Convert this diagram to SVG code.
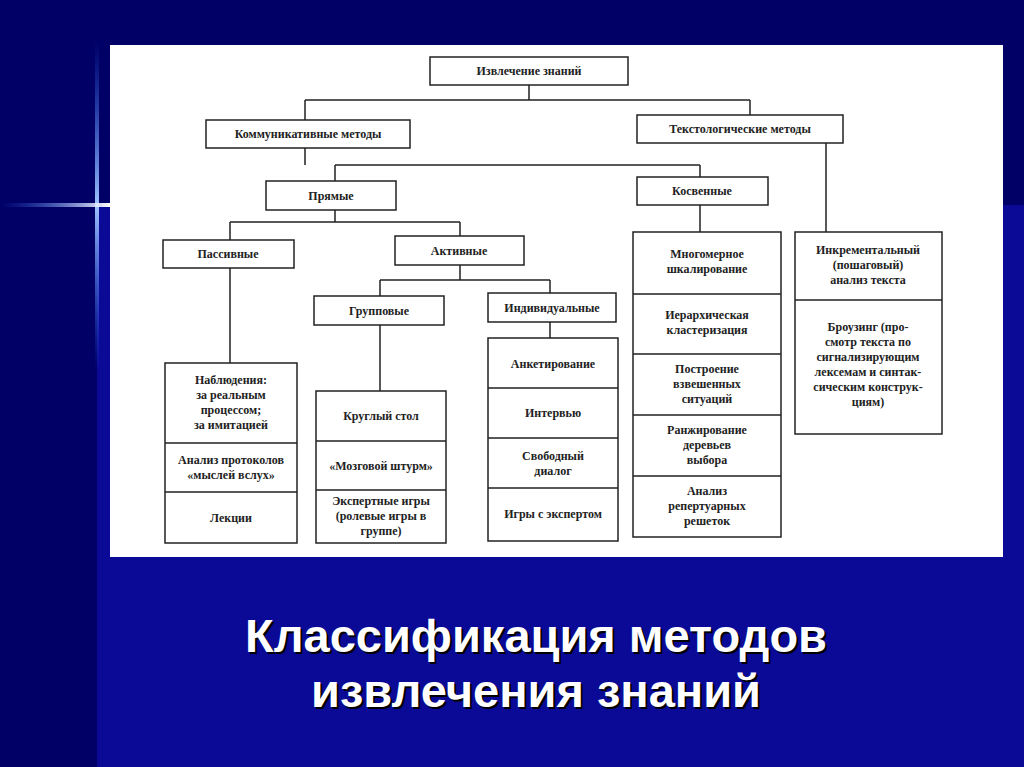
<svg xmlns="http://www.w3.org/2000/svg" width="1024" height="767" viewBox="0 0 1024 767">
<defs>
<linearGradient id="gv" x1="0" y1="0" x2="0" y2="1"><stop offset="0" stop-color="#2a6cff" stop-opacity="0"/><stop offset="0.5" stop-color="#9fc4ff"/><stop offset="1" stop-color="#2a6cff" stop-opacity="0"/></linearGradient>
<linearGradient id="gh" x1="0" y1="0" x2="1" y2="0"><stop offset="0" stop-color="#2a6cff" stop-opacity="0"/><stop offset="1" stop-color="#ffffff"/></linearGradient>
</defs>
<style>
.b{fill:#fff;stroke:#222;stroke-width:1.5}
.l{fill:none;stroke:#222;stroke-width:1.5}
text{font-family:"Liberation Serif",serif;font-weight:bold;font-size:12px;fill:#222;text-anchor:middle}
.t{font-family:"Liberation Sans",Arial,sans-serif;font-size:47px;fill:#fff}
</style>
<rect width="1024" height="767" fill="#000066"/>
<rect x="97" y="205" width="927" height="562" fill="#0a0a96"/>
<rect x="95" y="40" width="4" height="330" fill="url(#gv)"/>
<rect x="0" y="203" width="110" height="4" fill="url(#gh)"/>
<rect x="110" y="45" width="893" height="512" fill="#fff"/>
<g id="connectors">
<path class="l" d="M529 85V100M305 100H750M305 100V120M750 100V115M305 148V165M335 165H700M335 165V181M700 165V177M335 210V222M230 222H460M230 222V240M460 222V236M460 265V280M380 280H550M380 280V296M550 280V293M230 268V363M380 325V391M550 322V338M700 205V232M826 143V232"/>
</g>
<g id="n1"><rect class="b" x="430" y="57" width="198" height="28"/><text x="529" y="75">Извлечение знаний</text></g>
<g id="n2"><rect class="b" x="206" y="120" width="204" height="28"/><text x="308" y="138">Коммуникативные методы</text></g>
<g id="n3"><rect class="b" x="637" y="115" width="206" height="28"/><text x="740" y="133">Текстологические методы</text></g>
<g id="n4"><rect class="b" x="266" y="181" width="130" height="29"/><text x="331" y="200">Прямые</text></g>
<g id="n5"><rect class="b" x="637" y="177" width="131" height="28"/><text x="702" y="195">Косвенные</text></g>
<g id="n6"><rect class="b" x="163" y="240" width="131" height="28"/><text x="228" y="258">Пассивные</text></g>
<g id="n7"><rect class="b" x="395" y="236" width="129" height="29"/><text x="459" y="255">Активные</text></g>
<g id="n8"><rect class="b" x="314" y="296" width="130" height="29"/><text x="379" y="315">Групповые</text></g>
<g id="n9"><rect class="b" x="488" y="293" width="128" height="29"/><text x="552" y="312">Индивидуальные</text></g>
<g id="s1"><rect class="b" x="165" y="363" width="132" height="180"/><path class="l" d="M165 443H297M165 492H297"/>
<text x="231" y="384">Наблюдения:</text><text x="231" y="399">за реальным</text><text x="231" y="414">процессом;</text><text x="231" y="429">за имитацией</text>
<text x="231" y="464">Анализ протоколов</text><text x="231" y="479">«мыслей вслух»</text><text x="231" y="522">Лекции</text></g>
<g id="s2"><rect class="b" x="316" y="391" width="130" height="152"/><path class="l" d="M316 441H446M316 490H446"/>
<text x="381" y="420">Круглый стол</text><text x="381" y="470">«Мозговой штурм»</text>
<text x="381" y="505">Экспертные игры</text><text x="381" y="520">(ролевые игры в</text><text x="381" y="535">группе)</text></g>
<g id="s3"><rect class="b" x="488" y="338" width="130" height="203"/><path class="l" d="M488 388H618M488 438H618M488 488H618"/>
<text x="553" y="368">Анкетирование</text><text x="553" y="417">Интервью</text>
<text x="553" y="460">Свободный</text><text x="553" y="475">диалог</text><text x="553" y="518">Игры с экспертом</text></g>
<g id="s4"><rect class="b" x="633" y="232" width="148" height="305"/><path class="l" d="M633 294H781M633 354H781M633 415H781M633 476H781"/>
<text x="707" y="258">Многомерное</text><text x="707" y="273">шкалирование</text>
<text x="707" y="319">Иерархическая</text><text x="707" y="334">кластеризация</text>
<text x="707" y="373">Построение</text><text x="707" y="388">взвешенных</text><text x="707" y="403">ситуаций</text>
<text x="707" y="434">Ранжирование</text><text x="707" y="449">деревьев</text><text x="707" y="464">выбора</text>
<text x="707" y="495">Анализ</text><text x="707" y="510">репертуарных</text><text x="707" y="525">решеток</text></g>
<g id="s5"><rect class="b" x="795" y="232" width="147" height="202"/><path class="l" d="M795 300H942"/>
<text x="868" y="254">Инкрементальный</text><text x="868" y="269">(пошаговый)</text><text x="868" y="284">анализ текста</text>
<text x="868" y="331">Броузинг (про-</text><text x="868" y="346">смотр текста по</text><text x="868" y="361">сигнализирующим</text><text x="868" y="376">лексемам и синтак-</text><text x="868" y="391">сическим конструк-</text><text x="868" y="406">циям)</text></g>
<g id="title">
<text class="t" x="536" y="652" style="fill:#000" dx="2" dy="2">Классификация методов</text>
<text class="t" x="536" y="707" style="fill:#000" dx="2" dy="2">извлечения знаний</text>
<text class="t" x="536" y="652">Классификация методов</text>
<text class="t" x="536" y="707">извлечения знаний</text>
</g>
</svg>
